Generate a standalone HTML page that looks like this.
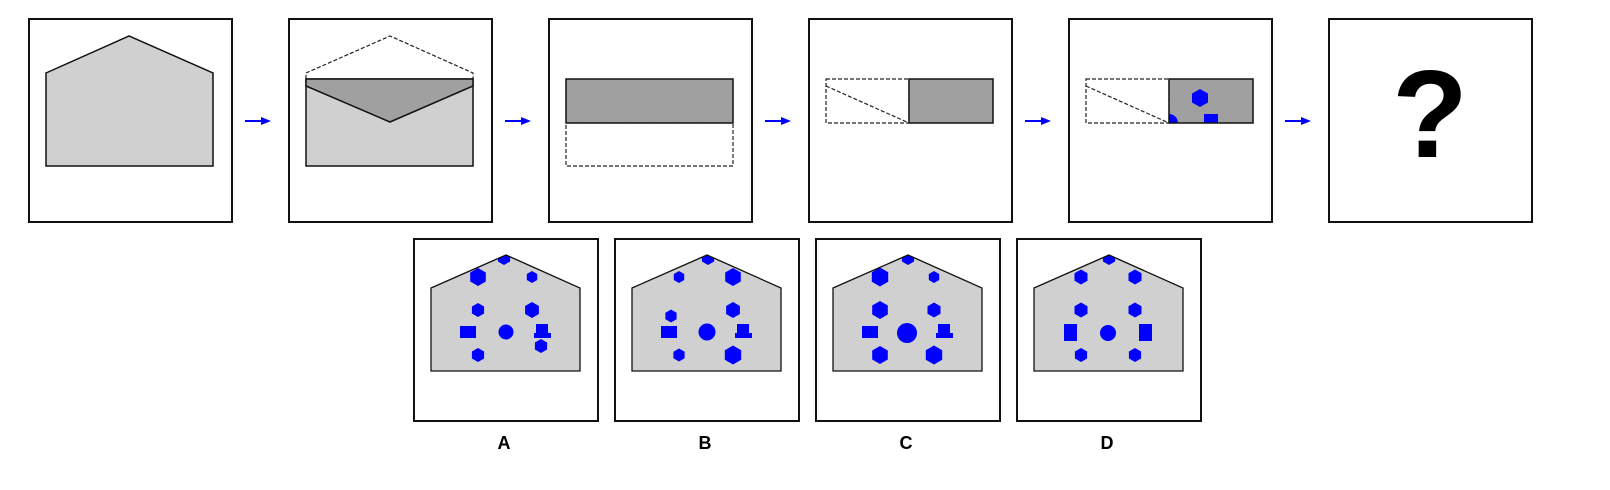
<!DOCTYPE html>
<html><head><meta charset="utf-8"><style>
html,body{margin:0;padding:0;background:#fff;}
svg{display:block;}
text{font-family:"Liberation Sans",Arial,sans-serif;font-weight:bold;}
</style></head><body>
<svg id="root" width="1610" height="490" viewBox="0 0 1610 490" xmlns="http://www.w3.org/2000/svg">
<defs>
<clipPath id="houseClip"><polygon points="17,16 92,-18 166,16 166,132 17,132" transform="translate(0,0)"/></clipPath>
<clipPath id="darkClip5"><rect x="1169" y="79" width="84" height="44"/></clipPath>
</defs>
<!-- Box 1 -->
<g>
<rect x="29" y="19" width="203" height="203" fill="#fff" stroke="#111" stroke-width="2"/>
<polygon points="46,73 129,36 213,73 213,166 46,166" fill="#d0d0d0" stroke="#111" stroke-width="1.5"/>
</g>
<!-- Box 2 -->
<g>
<rect x="289" y="19" width="203" height="203" fill="#fff" stroke="#111" stroke-width="2"/>
<polyline points="306,79 306,73 390,36 473,73 473,79" fill="none" stroke="#222" stroke-width="1.2" stroke-dasharray="4,2"/>
<rect x="306" y="79" width="167" height="87" fill="#d0d0d0" stroke="#111" stroke-width="1.5"/>
<polygon points="306,79 473,79 473,86 390,122 306,86" fill="#a0a0a0" stroke="#111" stroke-width="1.5"/>
</g>
<!-- Box 3 -->
<g>
<rect x="549" y="19" width="203" height="203" fill="#fff" stroke="#111" stroke-width="2"/>
<rect x="566" y="79" width="167" height="44" fill="#a0a0a0" stroke="#111" stroke-width="1.5"/>
<rect x="566" y="123" width="167" height="43" fill="none" stroke="#222" stroke-width="1.2" stroke-dasharray="4,2"/>
</g>
<!-- Box 4 -->
<g>
<rect x="809" y="19" width="203" height="203" fill="#fff" stroke="#111" stroke-width="2"/>
<rect x="826" y="79" width="83" height="44" fill="none" stroke="#222" stroke-width="1.2" stroke-dasharray="4,2"/>
<line x1="826" y1="86" x2="909" y2="123" stroke="#222" stroke-width="1.2" stroke-dasharray="4,2"/>
<rect x="909" y="79" width="84" height="44" fill="#a0a0a0" stroke="#111" stroke-width="1.5"/>
</g>
<!-- Box 5 -->
<g>
<rect x="1069" y="19" width="203" height="203" fill="#fff" stroke="#111" stroke-width="2"/>
<rect x="1086" y="79" width="83" height="44" fill="none" stroke="#222" stroke-width="1.2" stroke-dasharray="4,2"/>
<line x1="1086" y1="86" x2="1169" y2="123" stroke="#222" stroke-width="1.2" stroke-dasharray="4,2"/>
<rect x="1169" y="79" width="84" height="44" fill="#a0a0a0"/>
<g clip-path="url(#darkClip5)">
<polygon points="1200,89 1208,93.5 1208,102.5 1200,107 1192,102.5 1192,93.5" fill="#0000ff"/>
<rect x="1204" y="114" width="14" height="9" fill="#0000ff"/>
<circle cx="1169" cy="123" r="9" fill="#0000ff"/>
</g>
<rect x="1169" y="79" width="84" height="44" fill="none" stroke="#111" stroke-width="1.5"/>
</g>
<!-- Box 6 -->
<g>
<rect x="1329" y="19" width="203" height="203" fill="#fff" stroke="#111" stroke-width="2"/>
<text x="1430" y="157" font-size="124" text-anchor="middle" fill="#000">?</text>
</g>
<g id="arrows"></g>
<g id="options"></g>
</svg>
<script>
const NS="http://www.w3.org/2000/svg";
const root=document.getElementById('root');
// arrows
const arrowStarts=[0,1,2,3,4];
const ag=document.getElementById('arrows');
arrowStarts.forEach(k=>{
  const x=29+260*k+216, y=121;
  const l=document.createElementNS(NS,'line');
  l.setAttribute('x1',x);l.setAttribute('y1',y);l.setAttribute('x2',x+18);l.setAttribute('y2',y);
  l.setAttribute('stroke','#0000ff');l.setAttribute('stroke-width','2');
  
  
  ag.appendChild(l);
  const p=document.createElementNS(NS,'polygon');
  p.setAttribute('points',`${x+16},${y-4} ${x+26},${y} ${x+16},${y+4}`);
  p.setAttribute('fill','#0000ff');
  
  
  ag.appendChild(p);
});
// options: shapes in box-local coordinates [type, x, y, size]
const optionLabels=["A","B","C","D"];
const optA=[["h",90,19,7],["h",64,38,9],["h",118,38,6],["h",64,71,7],["h",118,71,8],["r",46,87,16,12],["c",92,93,7.5],["t",128,92],["h",127,107,7],["h",64,116,7]];
const optB=[["h",93,19,7],["h",64,38,6],["h",118,38,9],["h",56,77,6.5],["h",118,71,8],["r",46,87,16,12],["c",92,93,8.5],["t",128,92],["h",64,116,6.5],["h",118,116,9.5]];
const optC=[["h",92,19,7],["h",64,38,9.5],["h",118,38,6],["h",64,71,9],["h",118,71,7.5],["r",46,87,16,12],["c",91,94,10],["t",128,92],["h",64,116,9],["h",118,116,9.5]];
const optD=[["h",92,19,7],["h",64,38,7.5],["h",118,38,7.5],["h",64,71,7.5],["h",118,71,7.5],["r",47,85,13,17],["c",91,94,8],["r",122,85,13,17],["h",64,116,7],["h",118,116,7]];
const options=[optA,optB,optC,optD];
const og=document.getElementById('options');
function hexPts(cx,cy,r){const p=[];for(let i=0;i<6;i++){const a=Math.PI/3*i-Math.PI/2;p.push((cx+r*Math.cos(a)).toFixed(1)+','+(cy+r*Math.sin(a)).toFixed(1));}return p.join(' ');}
options.forEach((shapes,i)=>{
  const bx=414+201*i, by=239;
  const g=document.createElementNS(NS,'g');
  g.setAttribute('transform',`translate(${bx},${by})`);
  
  
  const box=document.createElementNS(NS,'rect');
  box.setAttribute('x',0);box.setAttribute('y',0);box.setAttribute('width',184);box.setAttribute('height',182);
  box.setAttribute('fill','#fff');box.setAttribute('stroke','#111');box.setAttribute('stroke-width','2');
  
  
  g.appendChild(box);
  const house=document.createElementNS(NS,'polygon');
  house.setAttribute('points','17,49 92,16 166,49 166,132 17,132');
  house.setAttribute('fill','#d0d0d0');
  
  
  g.appendChild(house);
  const cp=document.createElementNS(NS,'clipPath');
  cp.setAttribute('id','hc'+i);
  const cpp=document.createElementNS(NS,'polygon');
  cpp.setAttribute('points','17,49 92,16 166,49 166,132 17,132');
  cp.appendChild(cpp);g.appendChild(cp);
  const sg=document.createElementNS(NS,'g');
  sg.setAttribute('clip-path',`url(#hc${i})`);
  shapes.forEach(s=>{
    let el;
    if(s[0]==='h'){el=document.createElementNS(NS,'polygon');el.setAttribute('points',hexPts(s[1],s[2],s[3]));}
    else if(s[0]==='c'){el=document.createElementNS(NS,'circle');el.setAttribute('cx',s[1]);el.setAttribute('cy',s[2]);el.setAttribute('r',s[3]);}
    else if(s[0]==='r'){el=document.createElementNS(NS,'rect');el.setAttribute('x',s[1]);el.setAttribute('y',s[2]);el.setAttribute('width',s[3]);el.setAttribute('height',s[4]);}
    else {el=document.createElementNS(NS,'polygon');const x=s[1],y=s[2];
      el.setAttribute('points',`${x-6},${y-7} ${x+6},${y-7} ${x+6},${y+2} ${x+9},${y+2} ${x+9},${y+7} ${x-8},${y+7} ${x-8},${y+2} ${x-6},${y+2}`);}
    el.setAttribute('fill','#0000ff');
    
    
    sg.appendChild(el);
  });
  g.appendChild(sg);
  const outline=document.createElementNS(NS,'polygon');
  outline.setAttribute('points','17,49 92,16 166,49 166,132 17,132');
  outline.setAttribute('fill','none');outline.setAttribute('stroke','#111');outline.setAttribute('stroke-width','1.3');
  
  
  g.appendChild(outline);
  og.appendChild(g);
  const t=document.createElementNS(NS,'text');
  t.setAttribute('x',bx+90);t.setAttribute('y',449);t.setAttribute('text-anchor','middle');t.setAttribute('font-size','18');
  t.textContent=optionLabels[i];
  
  
  og.appendChild(t);
});
</script>
</body></html>
